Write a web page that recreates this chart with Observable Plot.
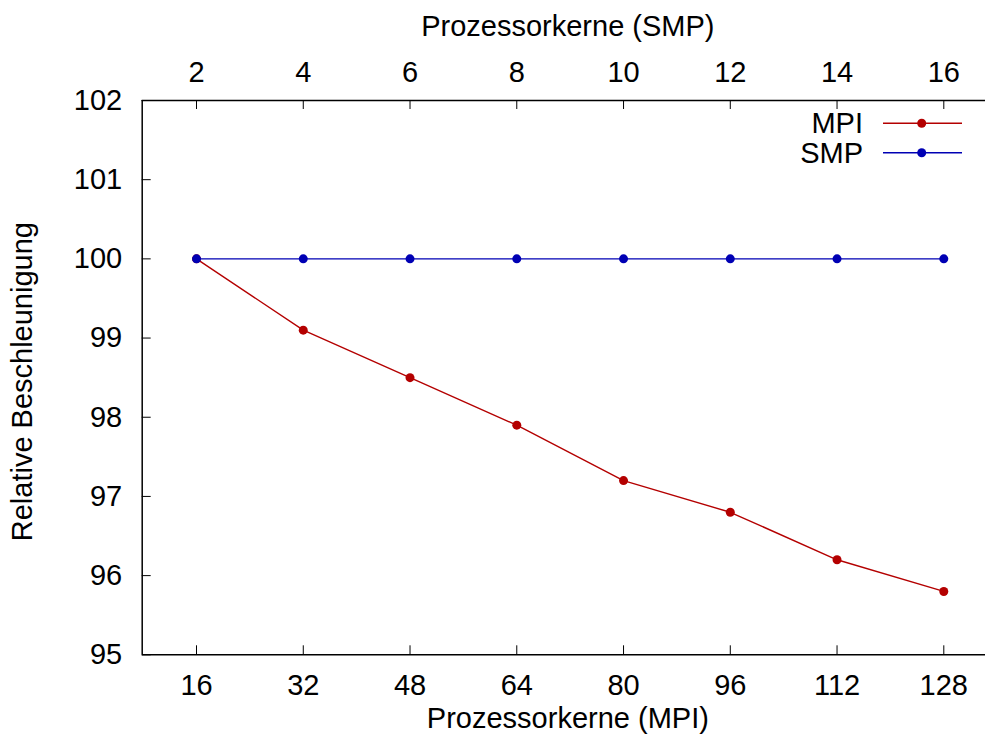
<!DOCTYPE html>
<html>
<head>
<meta charset="utf-8">
<script src="https://cdn.jsdelivr.net/npm/d3@7"></script>
<script src="https://cdn.jsdelivr.net/npm/@observablehq/plot@0.6"></script>
<style>
  html, body { margin: 0; padding: 0; background: #fff; }
  svg { display: block; }
</style>
</head>
<body>
<div id="chart"></div>
<script>
// ---- data ----
const mpiCores = [16, 32, 48, 64, 80, 96, 112, 128];
const smpCores = [2, 4, 6, 8, 10, 12, 14, 16];
const mpiSpeedup = [100, 99.1, 98.5, 97.9, 97.2, 96.8, 96.2, 95.8];
const smpSpeedup = [100, 100, 100, 100, 100, 100, 100, 100];
const yTicks = [95, 96, 97, 98, 99, 100, 101, 102];
const seriesNames = ["MPI", "SMP"];
const xLabelBottom = "Prozessorkerne (MPI)";
const xLabelTop = "Prozessorkerne (SMP)";
const yLabel = "Relative Beschleunigung";
const smpToMpi = 8; // top axis value * 8 = bottom axis value

// ---- layout / style ----
const W = 985, H = 742;
const mL = 141.7, mR = 0, mT = 100, mB = 87.7;
const plotW = W - mL - mR, plotH = H - mT - mB;
const red = "#b40000", blue = "#0000b4";
const font = "'Liberation Sans', Arial, Helvetica, sans-serif";
const fs = 29;
const xDomain = [7.86, 134.25];
const yDomain = [95, 102];

const mpiData = mpiCores.map((c, i) => ({x: c, y: mpiSpeedup[i]}));
const smpData = smpCores.map((c, i) => ({x: c * smpToMpi, y: smpSpeedup[i]}));

const legendItems = [
  {label: seriesNames[0], color: red},
  {label: seriesNames[1], color: blue}
];

function legend(index, scales, values, dimensions) {
  const g = d3.create("svg:g");
  const right = dimensions.width - dimensions.marginRight;
  const rowY = [123.3, 152.7];
  legendItems.forEach((it, i) => {
    const y = rowY[i];
    g.append("text")
      .attr("x", right - 122).attr("y", y)
      .attr("dy", "0.35em")
      .attr("text-anchor", "end")
      .attr("font-family", font).attr("font-size", fs)
      .attr("fill", "#000")
      .text(it.label);
    g.append("line")
      .attr("x1", right - 102).attr("x2", right - 23)
      .attr("y1", y).attr("y2", y)
      .attr("stroke", it.color).attr("stroke-width", 1.4);
    g.append("circle")
      .attr("cx", right - 63.3).attr("cy", y).attr("r", 4.5)
      .attr("fill", it.color);
  });
  return g.node();
}

const chart = Plot.plot({
  width: W, height: H,
  marginLeft: mL, marginRight: mR, marginTop: mT, marginBottom: mB,
  style: {fontFamily: font, fontSize: fs + "px", background: "#fff", color: "#000"},
  x: {domain: xDomain, axis: null},
  y: {domain: yDomain, axis: null},
  marks: [
    // frame (left, top, bottom)
    Plot.ruleY([yDomain[0], yDomain[1]], {stroke: "#000", strokeWidth: 1.5}),
    Plot.ruleX([xDomain[0]], {stroke: "#000", strokeWidth: 1.5}),
    // inward ticks
    Plot.tickY(yTicks, {y: d => d, stroke: "#000", strokeWidth: 1, insetRight: plotW - 9}),
    Plot.tickX(mpiCores, {x: d => d, stroke: "#000", strokeWidth: 1, insetTop: plotH - 9}),
    Plot.tickX(smpCores, {x: d => d * smpToMpi, stroke: "#000", strokeWidth: 1, insetBottom: plotH - 9}),
    // tick labels
    Plot.axisY({ticks: yTicks, tickFormat: d3.format("d"), tickSize: 0, tickPadding: 20, label: null, fontSize: fs}),
    Plot.axisX({anchor: "bottom", ticks: mpiCores, tickFormat: d3.format("d"), tickSize: 0, tickPadding: 20, label: null, fontSize: fs}),
    Plot.axisX({anchor: "top", ticks: smpCores.map(d => d * smpToMpi), tickFormat: d => String(d / smpToMpi), tickSize: 0, tickPadding: 19, label: null, fontSize: fs}),
    // axis titles
    Plot.text([xLabelBottom], {text: d => d, frameAnchor: "bottom", textAnchor: "middle", dx: 4, dy: 73, lineAnchor: "bottom", fontSize: fs}),
    Plot.text([xLabelTop], {text: d => d, frameAnchor: "top", textAnchor: "middle", dx: 4, dy: -65, lineAnchor: "bottom", fontSize: fs}),
    Plot.text([yLabel], {text: d => d, frameAnchor: "left", textAnchor: "middle", dx: -119, dy: 4, rotate: -90, lineAnchor: "middle", fontSize: fs}),
    // data
    Plot.line(mpiData, {x: "x", y: "y", stroke: red, strokeWidth: 1.4}),
    Plot.dot(mpiData, {x: "x", y: "y", r: 4.5, fill: red}),
    Plot.line(smpData, {x: "x", y: "y", stroke: blue, strokeWidth: 1.4}),
    Plot.dot(smpData, {x: "x", y: "y", r: 4.5, fill: blue}),
    legend
  ]
});

document.getElementById("chart").appendChild(chart);
</script>
</body>
</html>
